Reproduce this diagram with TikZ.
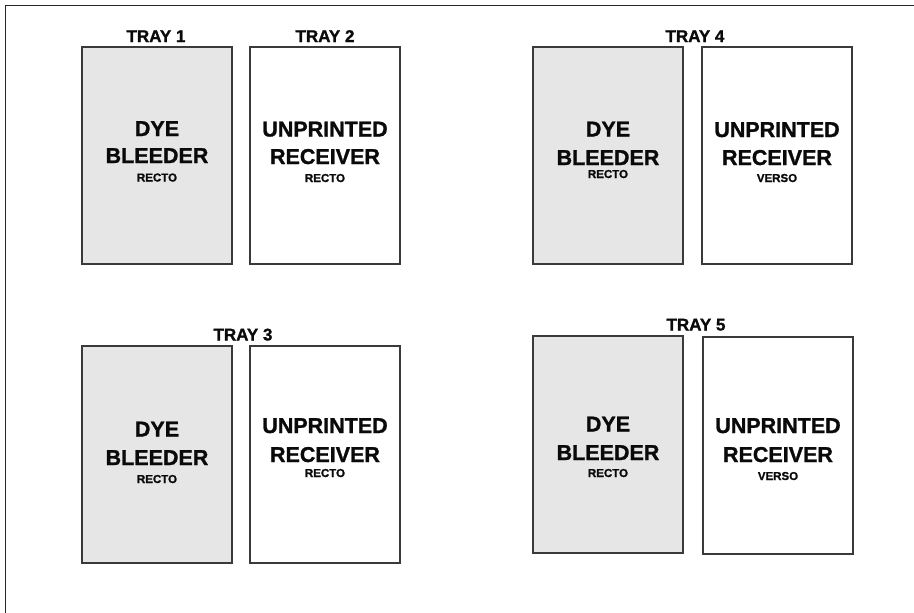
\documentclass[tikz,border=0pt]{standalone}
\usepackage{fontspec}
\setmainfont{Liberation Sans}
\newfontfamily\heavysans[FakeBold=1.2]{Liberation Sans Bold}
\usetikzlibrary{shadows}
\definecolor{boxline}{HTML}{3A3A3A}
\definecolor{boxgray}{HTML}{E6E6E6}
\definecolor{ink}{HTML}{0A0A0A}
\begin{document}
\begin{tikzpicture}[x=1pt,y=-1pt,
  sheet/.style={draw=boxline,line width=1.6pt,minimum width=150pt,minimum height=217pt,inner sep=0pt,outer sep=0pt,
    drop shadow={shadow xshift=0pt,shadow yshift=-1.3pt,fill=black!40,opacity=0.8}},
  dyesheet/.style={sheet,fill=boxgray},
  recsheet/.style={sheet,fill=white},
  big/.style={anchor=base,inner sep=0pt,text=ink,font=\heavysans\fontsize{21.5}{24}\selectfont},
  small/.style={anchor=base,inner sep=0pt,text=ink,font=\heavysans\fontsize{11.5}{13}\selectfont},
  traylabel/.style={anchor=base,inner sep=0pt,text=ink,font=\heavysans\fontsize{17}{19}\selectfont}]
\useasboundingbox (0,0) rectangle (914,613);
\draw[line width=1pt,black!85] (914,5.5) -- (5.5,5.5) -- (5.5,613);

% boxes
\node[dyesheet] (b1) at (157,155.5) {};
\node[recsheet] (b2) at (325,155.5) {};
\node[dyesheet] (b4a) at (608,155.5) {};
\node[recsheet] (b4b) at (777,155.5) {};
\node[dyesheet] (b3a) at (157,454.5) {};
\node[recsheet] (b3b) at (325,454.5) {};
\node[dyesheet] (b5a) at (608,444.5) {};
\node[recsheet] (b5b) at (778,445.5) {};

% tray labels
\node[traylabel] (t1) at (156,42) {TRAY 1};
\node[traylabel] (t2) at (325,42) {TRAY 2};
\node[traylabel] (t4) at (695,42) {TRAY 4};
\node[traylabel] (t3) at (243,340.5) {TRAY 3};
\node[traylabel] (t5) at (696,330.5) {TRAY 5};

% tray 1
\node[big] (b1l1) at ([yshift=19.5pt]b1.center) {DYE};
\node[big] (b1l2) at ([yshift=-7.5pt]b1.center) {BLEEDER};
\node[small] (b1l3) at ([yshift=-26pt]b1.center) {RECTO};
% tray 2
\node[big] (b2l1) at ([yshift=19pt]b2.center) {UNPRINTED};
\node[big] (b2l2) at ([yshift=-8.5pt]b2.center) {RECEIVER};
\node[small] (b2l3) at ([yshift=-26.5pt]b2.center) {RECTO};
% tray 4
\node[big] (b4al1) at ([yshift=19pt]b4a.center) {DYE};
\node[big] (b4al2) at ([yshift=-9.5pt]b4a.center) {BLEEDER};
\node[small] (b4al3) at ([yshift=-22.5pt]b4a.center) {RECTO};
\node[big] (b4bl1) at ([yshift=18.5pt]b4b.center) {UNPRINTED};
\node[big] (b4bl2) at ([yshift=-9.5pt]b4b.center) {RECEIVER};
\node[small] (b4bl3) at ([yshift=-26.5pt]b4b.center) {VERSO};
% tray 3
\node[big] (b3al1) at ([yshift=18pt]b3a.center) {DYE};
\node[big] (b3al2) at ([yshift=-10.5pt]b3a.center) {BLEEDER};
\node[small] (b3al3) at ([yshift=-28.5pt]b3a.center) {RECTO};
\node[big] (b3bl1) at ([yshift=21.5pt]b3b.center) {UNPRINTED};
\node[big] (b3bl2) at ([yshift=-7.5pt]b3b.center) {RECEIVER};
\node[small] (b3bl3) at ([yshift=-22.5pt]b3b.center) {RECTO};
% tray 5
\node[big] (b5al1) at ([yshift=13pt]b5a.center) {DYE};
\node[big] (b5al2) at ([yshift=-15.5pt]b5a.center) {BLEEDER};
\node[small] (b5al3) at ([yshift=-32.5pt]b5a.center) {RECTO};
\node[big] (b5bl1) at ([yshift=12.5pt]b5b.center) {UNPRINTED};
\node[big] (b5bl2) at ([yshift=-16.5pt]b5b.center) {RECEIVER};
\node[small] (b5bl3) at ([yshift=-34.5pt]b5b.center) {VERSO};
\end{tikzpicture}
\end{document}
